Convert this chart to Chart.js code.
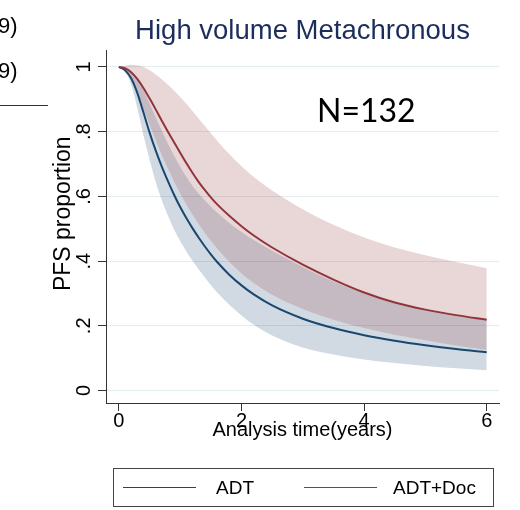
<!DOCTYPE html>
<html>
<head>
<meta charset="utf-8">
<script src="https://cdn.jsdelivr.net/npm/chart.js@4.4.0/dist/chart.umd.min.js"></script>
<style>
body { margin: 0; background: #fff; font-family: 'Liberation Sans', Arial, sans-serif; }
#wrap { position: relative; width: 520px; height: 510px; overflow: hidden; }
#chart { position: absolute; left: 0; top: 0; }
.frag { position: absolute; left: -2px; font-size: 22px; line-height: 22px; color: #000; }
#rule { position: absolute; left: 0; top: 105px; width: 48px; border-top: 1px solid #333; }
#nlabel { position: absolute; left: 317px; top: 94px; font-family: Lato, 'Noto Sans', sans-serif; font-size: 32px; line-height: 32px; color: #000; }
#legend { position: absolute; left: 113px; top: 468px; width: 379px; height: 37px; border: 1px solid #444; }
#legend .swatch { position: absolute; top: 18px; width: 73px; border-top: 1.5px solid; }
#legend .lbl { position: absolute; top: 9px; font-size: 19px; line-height: 19px; color: #000; }
</style>
</head>
<body>
<div id="wrap">
  <canvas id="chart" width="520" height="510"></canvas>
  <div class="frag" style="top:15px">9)</div>
  <div class="frag" style="top:60px">9)</div>
  <div id="rule"></div>
  <div id="nlabel">N=132</div>
  <div id="legend">
    <div class="swatch" style="left:9px;border-color:#1a476f"></div>
    <div class="lbl" style="left:102px">ADT</div>
    <div class="swatch" style="left:190px;border-color:#90353b"></div>
    <div class="lbl" style="left:279px">ADT+Doc</div>
  </div>
</div>
<script>
// follow-up time in years
var times = [0, 0.1, 0.2, 0.3, 0.4, 0.5, 0.6, 0.7, 0.8, 0.9, 1.0, 1.1, 1.2, 1.3, 1.4, 1.5, 1.6,
	     1.8, 2.0, 2.2, 2.5, 3.0, 3.5, 4.0, 4.5, 5.0, 5.5, 6.0];

// predicted PFS, ADT alone, with 95% band
var adt   = [1, 0.990, 0.965, 0.920, 0.860, 0.798, 0.742, 0.692, 0.647, 0.605, 0.567, 0.533, 0.502, 0.473, 0.446, 0.421, 0.398,
	     0.358, 0.325, 0.297, 0.263, 0.222, 0.193, 0.171, 0.154, 0.140, 0.128, 0.118];
var adtLo = [1, 0.985, 0.945, 0.873, 0.790, 0.714, 0.645, 0.588, 0.540, 0.498, 0.462, 0.430, 0.401, 0.375, 0.350, 0.326, 0.304,
	     0.265, 0.232, 0.203, 0.170, 0.133, 0.111, 0.096, 0.085, 0.076, 0.069, 0.063];
var adtHi = [1, 0.997, 0.986, 0.963, 0.930, 0.888, 0.845, 0.803, 0.763, 0.726, 0.692, 0.661, 0.633, 0.609, 0.588, 0.568, 0.550,
	     0.518, 0.490, 0.465, 0.432, 0.382, 0.337, 0.300, 0.270, 0.249, 0.232, 0.217];

// predicted PFS, ADT + docetaxel, with 95% band
var adtDoc   = [1, 0.996, 0.984, 0.963, 0.935, 0.903, 0.869, 0.834, 0.800, 0.767, 0.735, 0.703, 0.673, 0.645, 0.620, 0.597, 0.576,
		0.540, 0.508, 0.479, 0.442, 0.389, 0.343, 0.303, 0.272, 0.250, 0.233, 0.219];
var adtDocLo = [1, 0.990, 0.962, 0.920, 0.872, 0.822, 0.774, 0.728, 0.686, 0.646, 0.609, 0.575, 0.544, 0.515, 0.488, 0.463, 0.440,
		0.398, 0.362, 0.332, 0.296, 0.252, 0.219, 0.193, 0.172, 0.155, 0.139, 0.125];
var adtDocHi = [1, 1.004, 1.007, 1.005, 1.000, 0.990, 0.977, 0.962, 0.945, 0.927, 0.907, 0.886, 0.864, 0.841, 0.818, 0.795, 0.773,
		0.731, 0.693, 0.660, 0.618, 0.560, 0.512, 0.473, 0.442, 0.418, 0.397, 0.378];

var xTicks = [0, 2, 4, 6];
var yTicks = [0, 0.2, 0.4, 0.6, 0.8, 1];
var yTickLabels = ['0', '.2', '.4', '.6', '.8', '1'];

var blue = '#1a476f';
var red = '#90353b';

function points(ys) {
    var data = [];
    for (var i = 0; i < times.length; i++) {
	data.push({x: times[i], y: ys[i]});
    }
    return data;
}

// band datasets: the upper edge fills down to the lower edge that follows it
function band(ys, fill, color, order) {
    return {
	data: points(ys),
	fill: fill,
	backgroundColor: color,
	borderWidth: 0,
	pointRadius: 0,
	cubicInterpolationMode: 'monotone',
	order: order,
    };
}

function curve(label, ys, color, order) {
    return {
	label: label,
	data: points(ys),
	fill: false,
	borderColor: color,
	borderWidth: 2,
	pointRadius: 0,
	cubicInterpolationMode: 'monotone',
	order: order,
    };
}

var family = "'Liberation Sans', Arial, sans-serif";

var conf = {
    type: 'line',
    data: {
	datasets: [
	    band(adtHi, '+1', 'rgba(26,71,111,0.2)', 4),
	    band(adtLo, false, 'rgba(26,71,111,0.2)', 4),
	    band(adtDocHi, '+1', 'rgba(144,53,59,0.2)', 3),
	    band(adtDocLo, false, 'rgba(144,53,59,0.2)', 3),
	    curve('ADT', adt, blue, 1),
	    curve('ADT+Doc', adtDoc, red, 0),
	],
    },
    options: {
	responsive: false,
	animation: false,
	events: [],
	layout: {padding: {left: 0, right: 21, top: 0, bottom: 57}},
	plugins: {
	    legend: {display: false},
	    tooltip: {enabled: false},
	    title: {
		display: true,
		fullSize: false,
		text: 'High volume Metachronous',
		color: '#1c2d5c',
		font: {family: family, size: 27.5, weight: 'normal', lineHeight: 1.2},
		padding: {top: 15, bottom: 2},
	    },
	},
	scales: {
	    x: {
		type: 'linear',
		min: -0.21,
		max: 6.2,
		afterBuildTicks: function(s) { s.ticks = xTicks.map(function(v) { return {value: v}; }); },
		afterFit: function(s) { s.height = 50; },
		ticks: {
		    color: '#000',
		    font: {family: family, size: 20, lineHeight: 1},
		    padding: 0,
		    maxRotation: 0,
		},
		grid: {drawOnChartArea: false, tickLength: 8, tickColor: '#333'},
		border: {color: '#333'},
		title: {
		    display: true,
		    text: 'Analysis time(years)',
		    color: '#000',
		    font: {family: family, size: 20, lineHeight: 1.2},
		    padding: {top: 0, bottom: 11},
		},
	    },
	    y: {
		min: -0.0386,
		max: 1.0525,
		afterBuildTicks: function(s) { s.ticks = yTicks.map(function(v) { return {value: v}; }); },
		afterFit: function(s) { s.width = 106; },
		ticks: {
		    color: '#000',
		    font: {family: family, size: 20, lineHeight: 1},
		    padding: 5,
		    minRotation: 90,
		    maxRotation: 90,
		    crossAlign: 'center',
		    callback: function(value) { return yTickLabels[yTicks.indexOf(value)]; },
		},
		grid: {color: '#e3ecee', tickLength: 8, tickColor: '#333'},
		border: {color: '#333'},
		title: {
		    display: true,
		    // leading spaces lift the words a little above the axis midpoint
		    text: '    PFS proportion',
		    color: '#000',
		    font: {family: family, size: 23, lineHeight: 1.2},
		    padding: {top: 50, bottom: 0},
		},
	    },
	},
    },
};

new Chart(document.getElementById('chart').getContext('2d'), conf);
</script>
</body>
</html>
